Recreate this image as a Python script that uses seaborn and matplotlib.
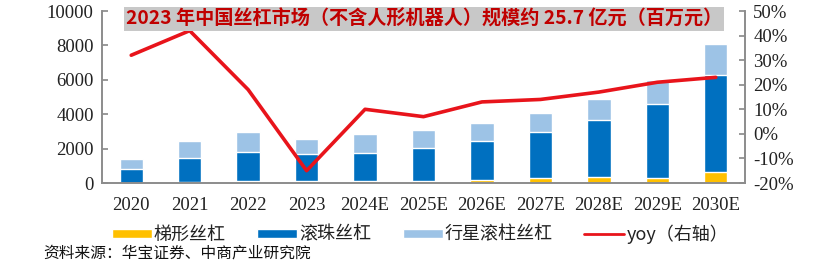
import numpy as np
import pandas as pd
import matplotlib
matplotlib.use("Agg")
import matplotlib.pyplot as plt
import seaborn as sns
from matplotlib.patches import Patch
from matplotlib.lines import Line2D

years = ["2020", "2021", "2022", "2023", "2024E", "2025E", "2026E", "2027E", "2028E", "2029E", "2030E"]
trapezoid = [20, 80, 100, 90, 120, 140, 150, 270, 330, 270, 620]
ball = [770, 1350, 1700, 1580, 1640, 1910, 2270, 2680, 3350, 4300, 5640]
planetary = [610, 990, 1150, 910, 1070, 1010, 1070, 1120, 1220, 1420, 1820]
yoy = [32, 42, 18, -15, 10, 7, 13, 14, 17, 21, 23]

series_names = ["梯形丝杠", "滚珠丝杠", "行星滚柱丝杠", "yoy（右轴）"]
title = "2023 年中国丝杠市场（不含人形机器人）规模约 25.7 亿元（百万元）"
source = "资料来源：华宝证券、中商产业研究院"

sns.set_theme(style="white")
plt.rcParams['font.family'] = ['Noto Sans CJK SC', 'DejaVu Sans']

c_trap = "#FFC000"
c_ball = "#0070C0"
c_plan = "#9DC3E6"
c_line = "#E8141B"
spine_c = "#8C8C8C"

df = pd.DataFrame({"year": years, "trap": trapezoid, "ball": ball, "plan": planetary, "yoy": yoy})
df["lvl2"] = df["trap"] + df["ball"]
df["lvl3"] = df["lvl2"] + df["plan"]

fig = plt.figure(figsize=(8.31, 2.70), dpi=100)
ax = fig.add_axes([102/831, 1-183/270, (745-102)/831, (183-11)/270])

sns.barplot(data=df, x="year", y="lvl3", color=c_plan, width=0.4, ax=ax, saturation=1)
sns.barplot(data=df, x="year", y="lvl2", color=c_ball, width=0.4, ax=ax, saturation=1)
sns.barplot(data=df, x="year", y="trap", color=c_trap, width=0.4, ax=ax, saturation=1)

ax2 = ax.twinx()
sns.pointplot(data=df, x="year", y="yoy", color=c_line, markers="", linewidth=2.6, ax=ax2)

ax.set_xlim(-0.5, len(years) - 0.5)
ax.set_ylim(0, 10000)
ax.set_yticks(range(0, 10001, 2000))
ax2.set_ylim(-20, 50)
ax2.set_yticks(range(-20, 51, 10))
ax2.set_yticklabels([f"{v}%" for v in range(-20, 51, 10)])
ax.set_xlabel("")
ax.set_ylabel("")
ax2.set_xlabel("")
ax2.set_ylabel("")

serif = "Liberation Serif"
for lab in ax.get_yticklabels() + ax.get_xticklabels() + ax2.get_yticklabels():
    lab.set_fontfamily(serif)
    lab.set_fontsize(13.5)
    lab.set_color("#222222")

ax.tick_params(axis="x", length=0, pad=10)
ax.set_xticks(np.arange(len(years)) + 0.5, minor=True)
ax.tick_params(axis="x", which="minor", direction="in", length=4, color=spine_c, width=1)
ax.tick_params(axis="y", direction="in", length=4, color=spine_c, pad=6)
ax2.tick_params(axis="y", direction="in", length=4, color=spine_c, pad=6)

for a in (ax, ax2):
    a.spines["top"].set_visible(False)
    for s in ["left", "right", "bottom"]:
        a.spines[s].set_color(spine_c)
        a.spines[s].set_linewidth(1.2)

fig.text(424/831, 1-19/270, title, ha="center", va="center", fontsize=13.8,
         fontweight="bold", color="#C00000",
         bbox=dict(facecolor="#C8C8C8", edgecolor="none", boxstyle="square,pad=0.12"))

handles = [Patch(facecolor=c_trap), Patch(facecolor=c_ball), Patch(facecolor=c_plan),
           Line2D([0], [0], color=c_line, lw=2)]
leg = fig.legend(handles, series_names, loc="center left", bbox_to_anchor=(112/831, 1-234/270),
                 ncol=4, frameon=False, fontsize=13, handlelength=2.2, handleheight=0.4,
                 handletextpad=0.12, columnspacing=1.75, borderaxespad=0, borderpad=0)
for t in leg.get_texts():
    t.set_color("#222222")

fig.text(43/831, 1-253/270, source, ha="left", va="center", fontsize=11.3,
         style="italic", color="#111111")

fig.savefig("out.png", dpi=100)
